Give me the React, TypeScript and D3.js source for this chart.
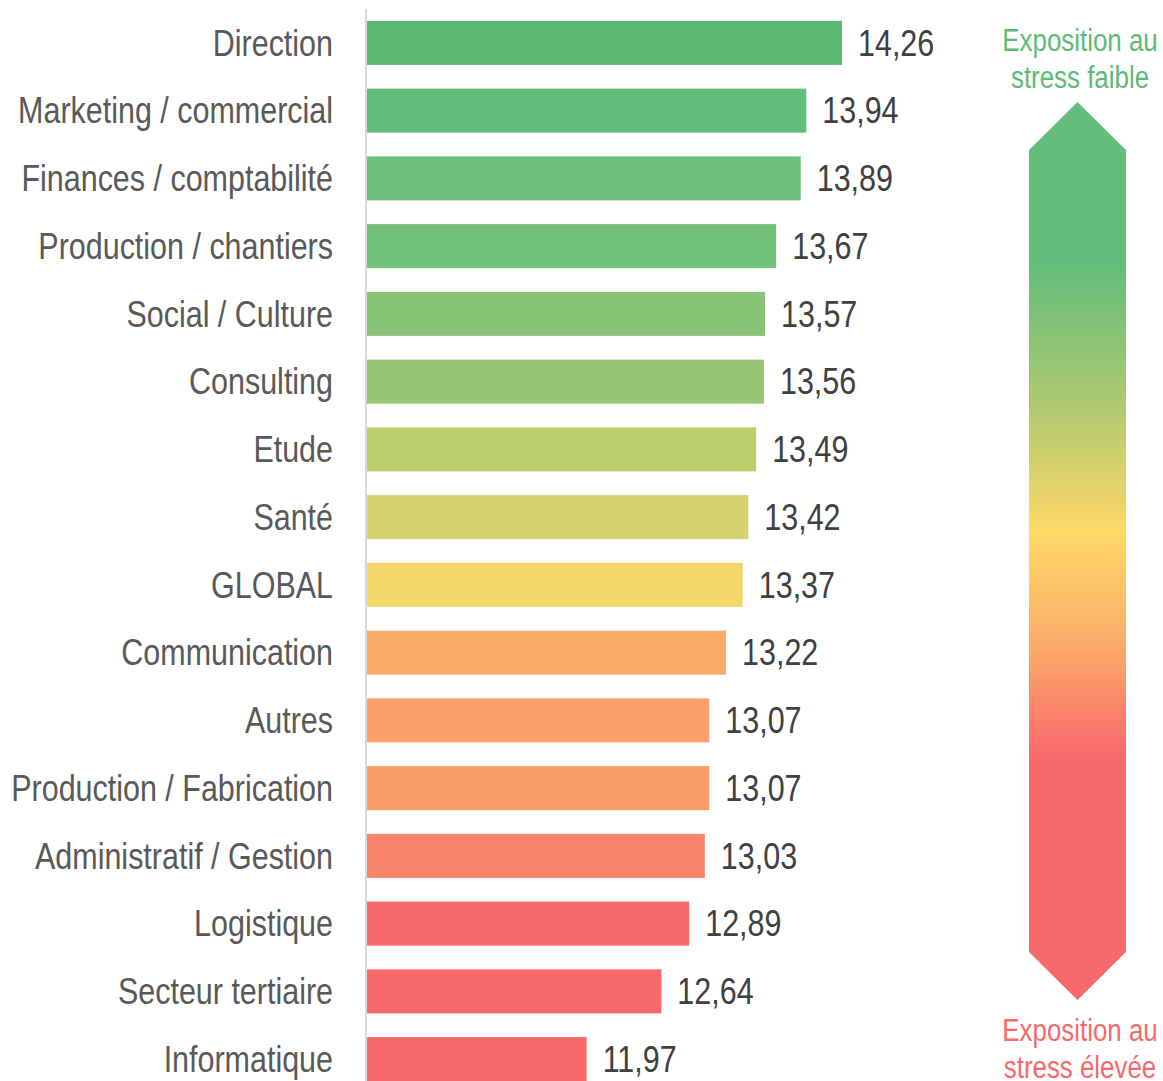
import { useEffect } from 'react';
import * as d3 from 'd3';

const categories = [
  'Direction',
  'Marketing / commercial',
  'Finances / comptabilité',
  'Production / chantiers',
  'Social / Culture',
  'Consulting',
  'Etude',
  'Santé',
  'GLOBAL',
  'Communication',
  'Autres',
  'Production / Fabrication',
  'Administratif / Gestion',
  'Logistique',
  'Secteur tertiaire',
  'Informatique',
];

const scores = [14.26, 13.94, 13.89, 13.67, 13.57, 13.56, 13.49, 13.42, 13.37, 13.22, 13.07, 13.07, 13.03, 12.89, 12.64, 11.97];

const barColors = [
  '#5bb974', '#63bd7a', '#6bbf7a', '#70c07a', '#88c475', '#95c673', '#bccf6d', '#d4d26e',
  '#f3d768', '#fbab68', '#faa068', '#fa9c68', '#f9836b', '#f8696b', '#f8696b', '#f8696b',
];

const legendTop = ['Exposition au', 'stress faible'];
const legendBottom = ['Exposition au', 'stress élevée'];

const W = 1163;
const H = 1081;
const FONT = '"Liberation Sans", Arial, sans-serif';
const NARROW = 0.835; // no Arial Narrow installed: squeeze Liberation Sans

export default function App() {
  useEffect(() => {
    document.body.style.margin = '0';
  }, []);

  const x = d3.scaleLinear().domain([10, 15]).range([367, 924.5]);
  const y = d3.scaleBand<string>()
    .domain(categories)
    .range([9, 1093])
    .paddingInner(0.35)
    .paddingOuter(0.175);

  const fmt = (v: number) => v.toFixed(2).replace('.', ',');

  // narrow text helper
  const NText = ({ tx, ty, anchor, size, fill, children }: any) => (
    <g transform={`translate(${tx},${ty}) scale(${NARROW},1)`}>
      <text dy="0.35em" textAnchor={anchor} fontSize={size} fill={fill}>{children}</text>
    </g>
  );

  // arrow shape of the legend
  const ax0 = 1029, ax1 = 1126, amid = (ax0 + ax1) / 2;
  const arrow = d3.path();
  arrow.moveTo(amid, 102);
  arrow.lineTo(ax1, 150);
  arrow.lineTo(ax1, 952);
  arrow.lineTo(amid, 1000);
  arrow.lineTo(ax0, 952);
  arrow.lineTo(ax0, 150);
  arrow.closePath();

  return (
    <svg width={W} height={H} style={{ display: 'block', fontFamily: FONT }}>
      <defs>
        <linearGradient id="stressGrad" x1="0" y1="0" x2="0" y2="1">
          <stop offset="0" stopColor="#63be7b" />
          <stop offset="0.18" stopColor="#63be7b" />
          <stop offset="0.33" stopColor="#a9c970" />
          <stop offset="0.48" stopColor="#ffd966" />
          <stop offset="0.6" stopColor="#fbae68" />
          <stop offset="0.73" stopColor="#f8696b" />
          <stop offset="1" stopColor="#f8696b" />
        </linearGradient>
      </defs>

      {categories.map((c, i) => {
        const yc = (y(c) ?? 0) + y.bandwidth() / 2;
        return (
          <g key={c}>
            <rect
              x={x(10)}
              y={y(c)}
              width={x(scores[i]) - x(10)}
              height={y.bandwidth()}
              fill={barColors[i]}
            />
            <NText tx={333} ty={yc} anchor="end" size={36.5} fill="#595959">{c}</NText>
            <NText tx={x(scores[i]) + 16} ty={yc} anchor="start" size={36.5} fill="#404040">
              {fmt(scores[i])}
            </NText>
          </g>
        );
      })}

      <line x1={366} x2={366} y1={9} y2={H} stroke="#d9d9d9" strokeWidth={2} />

      <path d={arrow.toString()} fill="url(#stressGrad)" />

      {legendTop.map((t, i) => (
        <NText key={'t' + i} tx={1080} ty={40 + i * 37} anchor="middle" size={31} fill="#5dbb76">{t}</NText>
      ))}
      {legendBottom.map((t, i) => (
        <NText key={'b' + i} tx={1080} ty={1030 + i * 37} anchor="middle" size={31} fill="#f8696b">{t}</NText>
      ))}
    </svg>
  );
}
